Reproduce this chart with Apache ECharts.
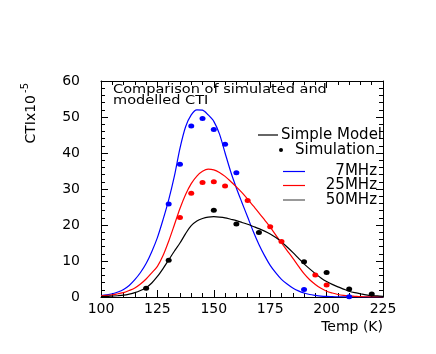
<!DOCTYPE html>
<html>
<head>
<meta charset="utf-8">
<script src="https://cdn.jsdelivr.net/npm/echarts@6/dist/echarts.min.js"></script>
<style>html,body{margin:0;padding:0;background:#fff;}#c{width:436px;height:354px;}</style>
</head>
<body>
<div id="c"></div>
<script>
// Model curve temperatures (K), read every 2.5 K
var modelTemps = [100,102.5,105,107.5,110,112.5,115,117.5,120,122.5,125,127.5,130,132.5,135,137.5,140,142.5,145,147.5,150,152.5,155,157.5,160,162.5,165,167.5,170,172.5,175,177.5,180,182.5,185,187.5,190,192.5,195,197.5,200,202.5,205,207.5,210,212.5,215,217.5,220,222.5,225];
var model7MHz  = [0.4,0.6,0.9,1.4,2.1,3.2,4.8,6.8,9.3,12.6,16.5,21.5,27,33.5,41.3,47.3,50.6,52,51.9,50.6,48.8,45.3,40,34.8,30.3,26.2,22.2,18.2,14.6,11.5,8.8,6.7,4.9,3.6,2.5,1.7,1.1,0.7,0.45,0.25,0.15,0.1,0.05,0.03,0.02,0.01,0,0,0,0,0];
var model25MHz = [0.3,0.45,0.6,0.9,1.2,1.8,2.5,3.6,5,6.7,8.5,11.5,15.5,20,24.6,28.5,31.5,33.6,34.9,35.5,35.3,34.6,33.5,32.1,30.6,29,27.2,25.3,23.4,21.4,19.4,17.2,15,12.9,10.8,8.6,6.5,4.8,3.5,2.4,1.6,1.1,0.7,0.45,0.3,0.2,0.1,0.07,0.05,0.02,0];
var model50MHz = [0.1,0.15,0.25,0.35,0.5,0.8,1.2,1.8,2.6,3.9,5.7,7.9,10.3,12.7,15,17.6,19.8,21.1,21.8,22.2,22.3,22.2,22,21.6,21.2,20.7,20.2,19.6,19,18.3,17.5,16.5,15.3,13.9,12.4,10.8,9.2,7.8,6.5,5.3,4.3,3.5,2.8,2.2,1.6,1.2,0.9,0.6,0.4,0.3,0.2];

// Simulation points
var sim7Temps  = [130,135,140,145,150,155,160,190,210];
var sim7Vals   = [25.8,36.9,47.5,49.6,46.5,42.4,34.5,2.1,0.1];
var sim25Temps = [135,140,145,150,155,165,175,180,195,200];
var sim25Vals  = [22.1,28.8,31.8,32,30.8,26.8,19.5,15.4,6.1,3.3];
var sim50Temps = [120,130,150,160,170,190,200,210,220];
var sim50Vals  = [2.4,10.2,24.1,20.3,17.9,9.8,6.8,2.2,0.8];

var xTicks = [100,125,150,175,200,225];
var yTicks = [0,10,20,30,40,50,60];

function pairs(xs, ys){ return xs.map(function(x,i){ return [x, ys[i]]; }); }

var FONT = 'DejaVu Sans';
var chart = echarts.init(document.getElementById('c'), null, {renderer:'canvas'});

function xAx(pos, showLabel){
  return {
    type:'value', position:pos, min:xTicks[0], max:xTicks[xTicks.length-1], interval:25,
    axisLine:{show:true, onZero:false, lineStyle:{color:'#000', width:1}},
    axisTick:{show:true, inside:true, length:7, lineStyle:{color:'#000'}},
    minorTick:{show:true, splitNumber:5, length:4, lineStyle:{color:'#000'}},
    splitLine:{show:false},
    axisLabel:{show:showLabel, color:'#000', fontFamily:FONT, fontSize:14, margin:5}
  };
}
function yAx(pos, showLabel){
  return {
    type:'value', position:pos, min:yTicks[0], max:yTicks[yTicks.length-1], interval:10,
    axisLine:{show:true, onZero:false, lineStyle:{color:'#000', width:1}},
    axisTick:{show:true, inside:true, length:7, lineStyle:{color:'#000'}},
    minorTick:{show:true, splitNumber:5, length:4, lineStyle:{color:'#000'}},
    splitLine:{show:false},
    axisLabel:{show:showLabel, color:'#000', fontFamily:FONT, fontSize:14, margin:21}
  };
}

function lineSeries(data, color){
  return {type:'line', xAxisIndex:0, yAxisIndex:0, data:data, smooth:0.3, symbol:'none',
    lineStyle:{color:color, width:1.2}, z:3, silent:true, animation:false};
}
function dotSeries(data, color){
  return {type:'scatter', xAxisIndex:0, yAxisIndex:0, data:data, symbol:'circle', symbolSize:[6,5],
    itemStyle:{color:color, opacity:1}, z:4, silent:true, animation:false};
}

var option = {
  animation:false,
  backgroundColor:'#fff',
  grid:{left:101, right:53, top:81, bottom:57, containLabel:false},
  xAxis:[xAx('bottom', true), xAx('top', false)],
  yAxis:[yAx('left', true), yAx('right', false)],
  series:[
    lineSeries(pairs(modelTemps, model7MHz), '#0000ff'),
    lineSeries(pairs(modelTemps, model25MHz), '#ff0000'),
    lineSeries(pairs(modelTemps, model50MHz), '#000000'),
    dotSeries(pairs(sim7Temps, sim7Vals), '#0000ff'),
    dotSeries(pairs(sim25Temps, sim25Vals), '#ff0000'),
    dotSeries(pairs(sim50Temps, sim50Vals), '#000000')
  ],
  graphic:[
    {type:'text', x:113, y:84, scaleX:1.21, style:{text:'Comparison of simulated and\nmodelled CTI', font:'12px "DejaVu Sans"', fill:'#000', lineHeight:11, textVerticalAlign:'top'}, z:10},
    // y axis title
    {type:'text', x:31, y:95, rotation:Math.PI/2, style:{text:'CTIx10', font:'14px "DejaVu Sans"', fill:'#000', textAlign:'right', textVerticalAlign:'middle'}, z:10},
    {type:'text', x:25, y:83, rotation:Math.PI/2, style:{text:'-5', font:'10px "DejaVu Sans"', fill:'#000', textAlign:'right', textVerticalAlign:'middle'}, z:10},
    // x axis title
    {type:'text', x:383, y:327, style:{text:'Temp (K)', font:'14px "DejaVu Sans"', fill:'#000', textAlign:'right', textVerticalAlign:'middle'}, z:10},
    // legend
    {type:'line', shape:{x1:258, y1:135, x2:278, y2:135}, style:{stroke:'#000', lineWidth:1.2}, z:10},
    {type:'text', x:281, y:135, style:{text:'Simple Model', font:'15px "DejaVu Sans"', fill:'#000', textVerticalAlign:'middle'}, z:10},
    {type:'circle', shape:{cx:281, cy:150, r:2}, style:{fill:'#000'}, z:10},
    {type:'text', x:295, y:150, style:{text:'Simulation', font:'15px "DejaVu Sans"', fill:'#000', textVerticalAlign:'middle'}, z:10},
    {type:'line', shape:{x1:283, y1:171.5, x2:305, y2:171.5}, style:{stroke:'#0000ff', lineWidth:1.2}, z:10},
    {type:'text', x:377, y:171.5, style:{text:'7MHz', font:'15px "DejaVu Sans"', fill:'#000', textAlign:'right', textVerticalAlign:'middle'}, z:10},
    {type:'line', shape:{x1:283, y1:185.5, x2:305, y2:185.5}, style:{stroke:'#ff0000', lineWidth:1.2}, z:10},
    {type:'text', x:377, y:185.5, style:{text:'25MHz', font:'15px "DejaVu Sans"', fill:'#000', textAlign:'right', textVerticalAlign:'middle'}, z:10},
    {type:'line', shape:{x1:283, y1:200, x2:305, y2:200}, style:{stroke:'#555', lineWidth:1.2}, z:10},
    {type:'text', x:377, y:200, style:{text:'50MHz', font:'15px "DejaVu Sans"', fill:'#000', textAlign:'right', textVerticalAlign:'middle'}, z:10}
  ]
};
chart.setOption(option);
</script>
</body>
</html>
